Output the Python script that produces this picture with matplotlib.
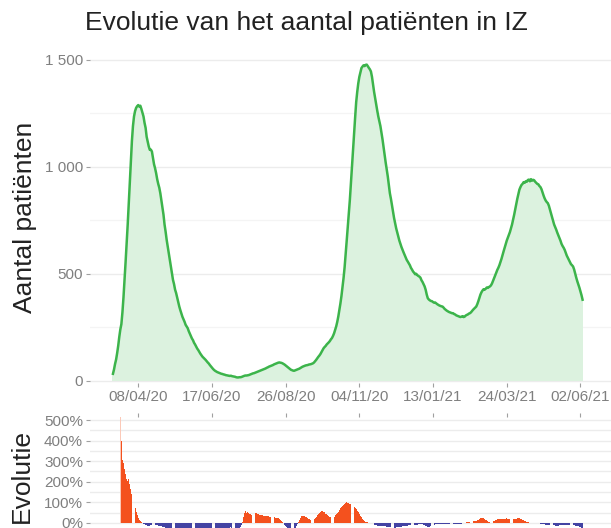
import numpy as np
import pandas as pd
import matplotlib as mpl
mpl.use('Agg')
import matplotlib.pyplot as plt
import matplotlib.dates as mdates
from matplotlib.ticker import FuncFormatter, MultipleLocator

plt.rcParams['font.family'] = ['Liberation Sans', 'DejaVu Sans']

# patients in intensive care, one value per day from 15/03/2020
start_date = '2020-03-15'
icu_patients = [
    33, 53, 79, 100, 130, 164, 205,
    240, 265, 320, 390, 470, 555, 640,
    730, 830, 930, 1030, 1120, 1190, 1235,
    1260, 1275, 1283, 1288, 1281, 1285, 1270,
    1252, 1235, 1205, 1182, 1140, 1118, 1095,
    1079, 1080, 1071, 1040, 1012, 993, 970,
    942, 920, 902, 876, 842, 807, 776,
    730, 697, 659, 628, 594, 565, 537,
    503, 472, 452, 426, 410, 389, 367,
    347, 330, 315, 299, 288, 276, 262,
    254, 246, 232, 221, 209, 198, 190,
    178, 170, 160, 151, 144, 135, 127,
    120, 113, 108, 103, 98, 92, 86,
    81, 74, 68, 62, 56, 51, 47,
    44, 41, 39, 37, 35, 33, 32,
    30, 29, 27, 26, 25, 24, 23,
    24, 22, 21, 20, 19, 17, 16,
    16, 17, 17, 18, 20, 22, 24,
    25, 25, 26, 27, 29, 31, 33,
    35, 36, 38, 40, 42, 44, 46,
    48, 50, 52, 54, 56, 58, 61,
    63, 66, 68, 70, 72, 74, 77,
    79, 81, 83, 85, 86, 85, 84,
    82, 79, 76, 72, 68, 64, 60,
    56, 52, 50, 48, 47, 49, 51,
    53, 55, 57, 60, 63, 66, 68,
    70, 72, 73, 74, 76, 77, 78,
    80, 82, 86, 92, 98, 105, 112,
    118, 125, 134, 143, 152, 158, 163,
    170, 175, 180, 186, 194, 200, 210,
    222, 238, 254, 275, 300, 329, 361,
    396, 436, 480, 530, 590, 655, 718,
    781, 846, 920, 1000, 1079, 1150, 1230,
    1302, 1350, 1390, 1420, 1440, 1461, 1468,
    1474, 1470, 1476, 1477, 1470, 1462, 1455,
    1445, 1420, 1385, 1350, 1320, 1290, 1262,
    1235, 1212, 1190, 1160, 1128, 1092, 1055,
    1020, 988, 955, 915, 876, 850, 820,
    792, 760, 735, 712, 693, 675, 655,
    640, 625, 612, 600, 588, 575, 565,
    557, 548, 540, 528, 520, 511, 505,
    498, 500, 494, 490, 487, 482, 470,
    462, 451, 441, 425, 403, 386, 380,
    376, 373, 372, 368, 365, 366, 362,
    358, 355, 352, 350, 348, 347, 342,
    336, 332, 328, 325, 322, 320, 318,
    316, 316, 312, 310, 306, 304, 302,
    300, 298, 300, 302, 298, 300, 305,
    308, 310, 314, 316, 320, 326, 332,
    337, 342, 347, 358, 372, 388, 403,
    414, 422, 428, 426, 430, 436, 434,
    438, 441, 446, 455, 468, 480, 492,
    505, 518, 528, 540, 555, 570, 588,
    605, 622, 640, 655, 668, 682, 695,
    712, 730, 752, 775, 800, 825, 850,
    872, 893, 905, 915, 920, 928, 925,
    932, 930, 938, 940, 932, 942, 935,
    939, 937, 930, 925, 920, 918, 910,
    905, 895, 880, 865, 852, 842, 835,
    830, 818, 800, 782, 765, 748, 730,
    718, 706, 692, 680, 668, 655, 640,
    630, 622, 612, 598, 585, 575, 565,
    556, 545, 540, 534, 520, 500, 482,
    465, 450, 435, 418, 400, 379,
]
tick_dates = ['2020-04-08', '2020-06-17', '2020-08-26', '2020-11-04',
              '2021-01-13', '2021-03-24', '2021-06-02']
y_ticks = [0, 500, 1000, 1500]
evo_ticks = [0, 100, 200, 300, 400, 500]

title = 'Evolutie van het aantal patiënten in IZ'
ylabel_top = 'Aantal patiënten'
ylabel_bottom = 'Evolutie'

green = '#3cb44b'
green_fill = '#dcf2df'
red = '#f4511e'
blue = '#4343a3'
grid_col = '#ececec'
label_col = '#7f7f7f'

df = pd.DataFrame({'icu': icu_patients},
                  index=pd.date_range(start_date, periods=len(icu_patients), freq='D'))
# weekly evolution in percent
df['evo'] = df['icu'].pct_change(7) * 100
days = mdates.date2num(df.index.to_pydatetime())

W, H = 611, 528
fig = plt.figure(figsize=(W / 100, H / 100), dpi=100)
ax1 = fig.add_axes([90 / W, 1 - 383 / H, 1 - 90 / W, (383 - 49) / H])
ax2 = fig.add_axes([90 / W, 0, 1 - 90 / W, (528 - 417) / H])

x0 = days[0]
for ax in (ax1, ax2):
    ax.set_xlim(x0 - 21.8, x0 + 473)
    for s in ax.spines.values():
        s.set_visible(False)
    ax.set_axisbelow(True)
    ax.set_xticks(mdates.date2num(pd.to_datetime(tick_dates).to_pydatetime()))
    ax.tick_params(length=3, width=0.8, color='#a0a0a0', labelcolor=label_col,
                   labelsize=11, pad=2)

# top panel
ax1.bar(days, df['icu'], width=1.0, color=green_fill, linewidth=0)
ax1.plot(days, df['icu'], color=green, lw=1.8, solid_joinstyle='round')
ax1.set_ylim(-10, 1550)
ax1.set_yticks(y_ticks)
ax1.yaxis.set_minor_locator(MultipleLocator(250))
ax1.tick_params(axis='y', which='minor', length=0)
ax1.yaxis.set_major_formatter(FuncFormatter(lambda v, p: f'{int(v):,}'.replace(',', ' ')))
ax1.xaxis.set_major_formatter(FuncFormatter(lambda v, p: mdates.num2date(v).strftime('%d/%m/%y')))
ax1.grid(axis='y', which='major', color=grid_col, lw=1.0)
ax1.grid(axis='y', which='minor', color='#f4f4f4', lw=0.9)

# bottom panel
top_lim = 515
evo = df['evo'].values
mask = ~np.isnan(evo)
cols = []
for v in evo[mask]:
    if v > top_lim:
        cols.append('#fbc9b8')
    elif v >= 0:
        cols.append(red)
    else:
        cols.append(blue)
ax2.bar(days[mask], evo[mask], width=0.85, color=cols, linewidth=0)
ax2.set_ylim(-25, top_lim)
ax2.set_yticks(evo_ticks)
ax2.yaxis.set_minor_locator(MultipleLocator(50))
ax2.tick_params(axis='y', which='minor', length=0)
ax2.yaxis.set_major_formatter(FuncFormatter(lambda v, p: f'{int(v)}%'))
ax2.xaxis.tick_top()
ax2.tick_params(axis='x', labeltop=False, labelbottom=False)
ax2.grid(axis='y', which='both', color=grid_col, lw=1.0)

fig.text(306 / W, 1 - 23 / H, title, ha='center', va='center', fontsize=19, color='#222222')
fig.text(25 / W, 1 - 217 / H, ylabel_top, ha='center', va='center', rotation=90,
         fontsize=19, color='#222222')
fig.text(22 / W, 1 - 476 / H, ylabel_bottom, ha='center', va='center', rotation=90,
         fontsize=19, color='#222222')

fig.savefig('out.png', dpi=100)
